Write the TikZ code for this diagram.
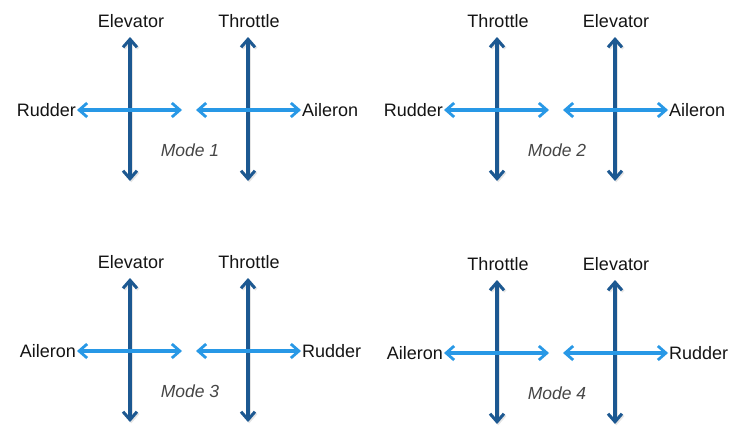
\documentclass[tikz,border=0pt]{standalone}
\usepackage{fontspec}
\setmainfont{Liberation Sans}
\usetikzlibrary{arrows.meta}
\definecolor{vblue}{RGB}{28,88,145}
\definecolor{hblue}{RGB}{40,152,230}
\definecolor{labelc}{RGB}{20,20,20}
\definecolor{modec}{RGB}{70,70,70}
\tikzset{
  lbl/.style={font=\fontsize{18}{20}\selectfont, text=labelc, inner sep=1pt},
  modelbl/.style={font=\fontsize{17.5}{20}\selectfont\itshape, text=modec, inner sep=0pt},
  vtip/.style={Straight Barb[length=8pt,width=14pt,line width=3pt]},
  htip/.style={Straight Barb[length=8pt,width=14pt,line width=2.8pt]},
  varrow/.style={draw=vblue, line width=3.6pt, {Straight Barb[length=8pt,width=14pt,line width=3pt]}-{Straight Barb[length=8pt,width=14pt,line width=3pt]}},
  vshadow/.style={draw=black, opacity=0.10, line width=4pt,
    transform canvas={shift={(1.3pt,-1.3pt)}},
    {Straight Barb[length=8pt,width=14pt,line width=3pt]}-{Straight Barb[length=8pt,width=14pt,line width=3pt]}},
  harrow/.style={draw=hblue, line width=3.3pt,
    {Straight Barb[length=8pt,width=14pt,line width=2.8pt]}-{Straight Barb[length=8pt,width=14pt,line width=2.8pt]}}
}
% #1 id, #2 x of first vertical, #3 y of top labels,
% #4 top-left label, #5 top-right label, #6 left label, #7 right label
\newcommand\modepanel[7]{%
  \coordinate (#1vat) at ({#2},{#3+16});
  \coordinate (#1vab) at ({#2},{#3+160});
  \coordinate (#1vbt) at ({#2+118},{#3+16});
  \coordinate (#1vbb) at ({#2+118},{#3+160});
  \coordinate (#1ha) at ({#2+52},{#3+89});
  \coordinate (#1hb) at ({#2+66},{#3+89});
  \node[lbl] (#1TL) at ({#2+1},{#3}) {#4};
  \node[lbl] (#1TR) at ({#2+119},{#3}) {#5};
  \node[lbl, anchor=east] (#1L) at ({#2-53},{#3+89}) {#6};
  \node[lbl, anchor=west] (#1R) at ({#2+171},{#3+89}) {#7};
  \node[modelbl] (#1M) at ({#2+60},{#3+129}) {Mode #1};
  \draw[vshadow] (#1vat) -- (#1vab);
  \draw[vshadow] (#1vbt) -- (#1vbb);
  \draw[varrow] (#1vat) -- (#1vab);
  \draw[varrow] (#1vbt) -- (#1vbb);
  \draw[harrow] (#1L.east) -- (#1ha);
  \draw[harrow] (#1hb) -- (#1R.west);
}
\begin{document}
\begin{tikzpicture}[x=1pt,y=-1pt]
  \useasboundingbox[fill=white] (0,0) rectangle (741,439);
  \modepanel{1}{130}{21}{Elevator}{Throttle}{Rudder}{Aileron}
  \modepanel{2}{497}{21}{Throttle}{Elevator}{Rudder}{Aileron}
  \modepanel{3}{130}{262}{Elevator}{Throttle}{Aileron}{Rudder}
  \modepanel{4}{497}{264}{Throttle}{Elevator}{Aileron}{Rudder}
\end{tikzpicture}
\end{document}
